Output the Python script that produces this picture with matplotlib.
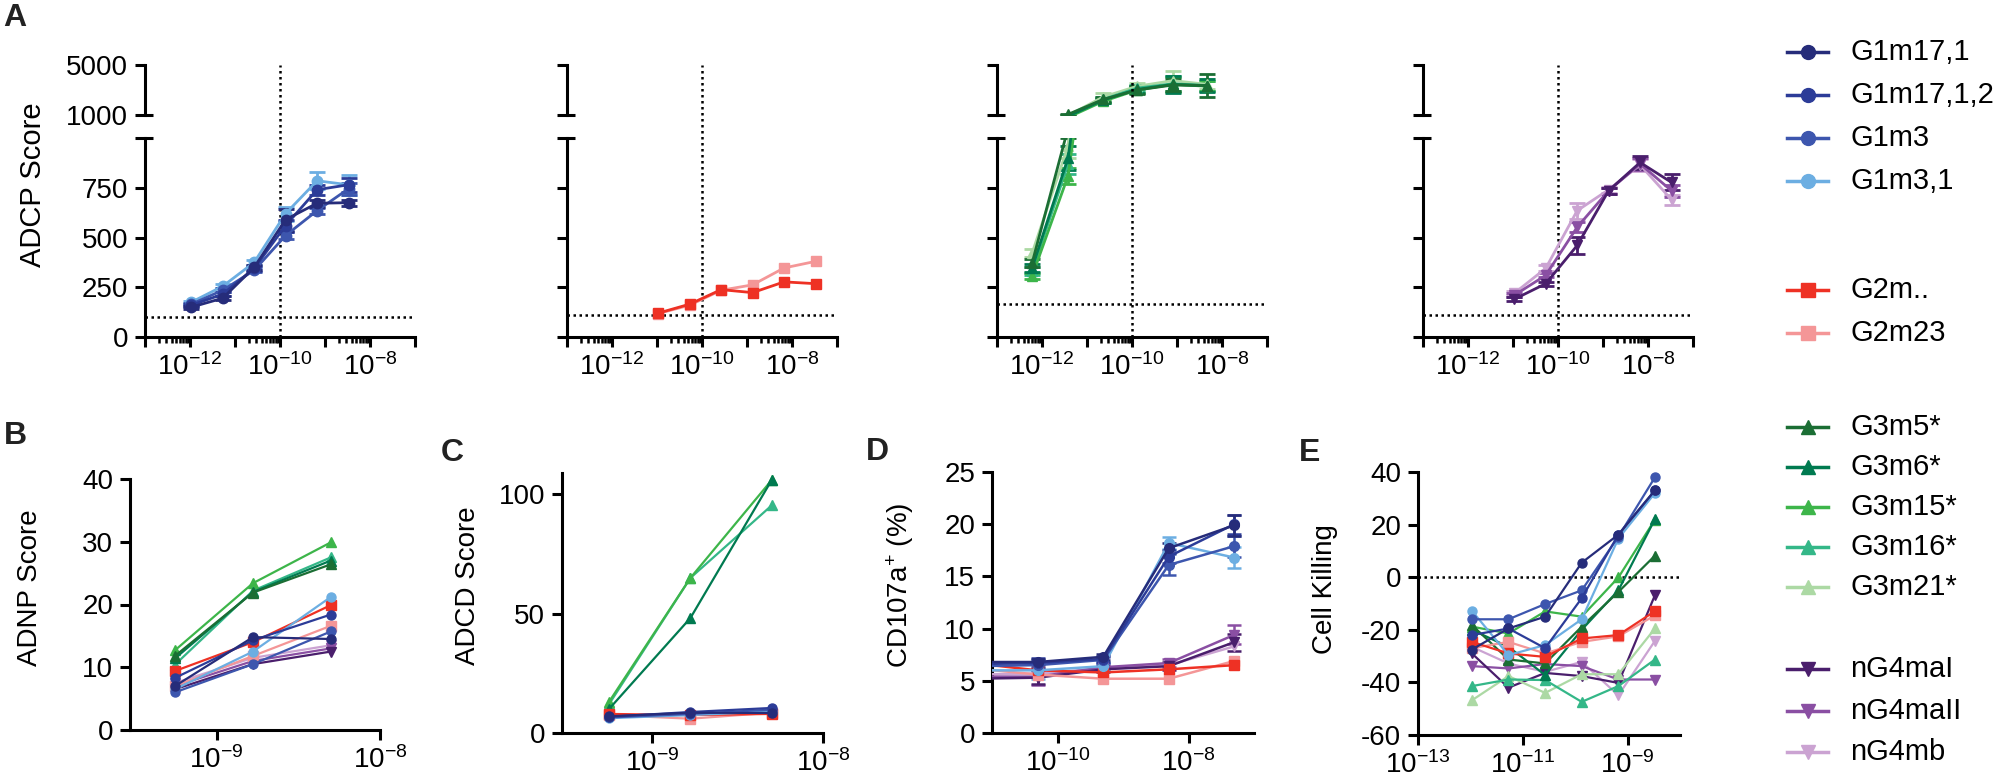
import matplotlib
matplotlib.use('Agg')
import matplotlib.pyplot as plt
from matplotlib.lines import Line2D
from matplotlib.ticker import FixedLocator, FixedFormatter, NullFormatter

plt.rcParams['font.family'] = ['Liberation Sans', 'DejaVu Sans']
plt.rcParams['mathtext.fontset'] = 'custom'
plt.rcParams['mathtext.rm'] = 'Liberation Sans'
plt.rcParams['mathtext.it'] = 'Liberation Sans:italic'
plt.rcParams['mathtext.bf'] = 'Liberation Sans:bold'

# ---------------- data ----------------
names = ['G1m17,1', 'G1m17,1,2', 'G1m3', 'G1m3,1', 'G2m..', 'G2m23',
         'G3m5*', 'G3m6*', 'G3m15*', 'G3m16*', 'G3m21*',
         'nG4maI', 'nG4maII', 'nG4mb']

# A: ADCP, one panel per subclass (concentration in M)
adcp_g1_conc = [1.07e-12, 5.33e-12, 2.67e-11, 1.33e-10, 6.67e-10, 3.33e-9]
adcp_g1 = {
    'G1m17,1':   [150, 195, 350, 590, 672, 675],
    'G1m17,1,2': [160, 215, 345, 560, 740, 765],
    'G1m3':      [165, 235, 335, 510, 635, 745],
    'G1m3,1':    [175, 255, 375, 620, 785, 765],
}
adcp_g1_err = {
    'G1m17,1':   [8, 10, 12, 55, 18, 15],
    'G1m17,1,2': [8, 10, 12, 30, 25, 35],
    'G1m3':      [8, 10, 10, 20, 15, 30],
    'G1m3,1':    [8, 10, 12, 35, 42, 50],
}

adcp_g2_conc = [1.07e-11, 5.33e-11, 2.67e-10, 1.33e-9, 6.67e-9, 3.33e-8]
adcp_g2 = {
    'G2m..': [120, 165, 238, 223, 277, 268],
    'G2m23': [118, 160, 235, 262, 347, 380],
}
adcp_g2_err = {}

adcp_g3_conc = [6.0e-13, 3.8e-12, 2.3e-11, 1.3e-10, 8.1e-10, 4.7e-9]
adcp_g3 = {
    'G3m5*':  [370, 1050, 2250, 3000, 3400, 3350],
    'G3m6*':  [345, 900, 2200, 3050, 3450, 3350],
    'G3m15*': [305, 810, 2100, 3000, 3450, 3300],
    'G3m16*': [330, 870, 2250, 3150, 3500, 3350],
    'G3m21*': [420, 960, 2450, 3300, 3750, 3450],
}
adcp_g3_err = {
    'G3m5*':  [20, 50, 200, 300, 500, 900],
    'G3m6*':  [20, 60, 200, 300, 700, 500],
    'G3m15*': [15, 40, 150, 250, 600, 400],
    'G3m16*': [20, 50, 200, 250, 600, 400],
    'G3m21*': [20, 60, 300, 300, 800, 400],
}

adcp_g4_conc = [1.07e-11, 5.33e-11, 2.67e-10, 1.33e-9, 6.67e-9, 3.33e-8]
adcp_g4 = {
    'nG4maI':  [190, 268, 460, 735, 877, 777],
    'nG4maII': [210, 310, 552, 735, 870, 735],
    'nG4mb':   [220, 345, 635, 740, 865, 690],
}
adcp_g4_err = {
    'nG4maI':  [10, 10, 45, 15, 35, 40],
    'nG4maII': [10, 10, 25, 15, 30, 30],
    'nG4mb':   [10, 15, 40, 15, 30, 25],
}
adcp_cutoffs = [100, 110, 165, 110]

# B: ADNP
adnp_conc = [5.56e-10, 1.67e-9, 5e-9]
adnp = {
    'G1m17,1':   [7.0, 14.8, 14.5],
    'G1m17,1,2': [8.3, 14.3, 18.4],
    'G1m3':      [6.0, 10.5, 15.7],
    'G1m3,1':    [6.5, 12.5, 21.2],
    'G2m..':     [9.4, 14.0, 19.9],
    'G2m23':     [7.0, 11.8, 16.6],
    'G3m5*':     [11.8, 21.9, 26.4],
    'G3m6*':     [11.4, 22.0, 27.0],
    'G3m15*':    [12.7, 23.4, 29.9],
    'G3m16*':    [10.4, 22.2, 27.5],
    'nG4maI':    [6.5, 10.5, 12.5],
    'nG4maII':   [7.0, 11.0, 13.0],
    'nG4mb':     [7.5, 11.5, 13.5],
}

# C: ADCD
adcd_conc = [5.56e-10, 1.67e-9, 5e-9]
adcd = {
    'G1m17,1':   [7.0, 8.5, 8.4],
    'G1m17,1,2': [6.8, 8.8, 10.5],
    'G1m3':      [6.5, 8.0, 9.8],
    'G1m3,1':    [6.2, 7.5, 9.0],
    'G2m..':     [8.0, 7.5, 8.0],
    'G2m23':     [7.5, 6.0, 8.5],
    'G3m6*':     [10.0, 48.2, 106.0],
    'G3m15*':    [13.0, 65.0, 106.0],
    'G3m16*':    [12.0, 65.0, 95.4],
}

# D: NK CD107a
cd107_conc = [5e-12, 5e-11, 5e-10, 5e-9, 5e-8]
cd107 = {
    'G1m17,1':   [6.8, 6.8, 7.3, 17.7, 19.9],
    'G1m17,1,2': [6.6, 6.7, 7.1, 16.9, 20.0],
    'G1m3':      [6.4, 6.5, 7.0, 16.1, 17.9],
    'G1m3,1':    [6.0, 6.0, 6.4, 18.2, 16.8],
    'G2m..':     [6.7, 6.0, 5.8, 6.1, 6.5],
    'G2m23':     [6.2, 5.6, 5.2, 5.2, 6.9],
    'nG4maI':    [5.2, 5.3, 6.1, 6.4, 8.7],
    'nG4maII':   [5.4, 5.4, 6.3, 6.7, 9.4],
    'nG4mb':     [5.6, 5.7, 6.2, 6.5, 8.3],
}
cd107_err = {
    'G1m17,1':   [0.3, 0.3, 0.3, 0.5, 1.0],
    'G1m17,1,2': [0.3, 0.5, 0.3, 0.6, 0.9],
    'G1m3':      [0.3, 0.5, 0.3, 1.0, 1.0],
    'G1m3,1':    [0.3, 0.8, 0.3, 0.6, 1.0],
    'nG4maI':    [0.3, 0.6, 0.3, 0.4, 0.8],
    'nG4maII':   [0.3, 0.8, 0.3, 0.4, 0.9],
}

# E: cell killing
kill_conc = [1.07e-12, 5.33e-12, 2.67e-11, 1.33e-10, 6.67e-10, 3.33e-9]
kill = {
    'G1m17,1':   [-27.5, -19.5, -15.0, 5.5, 16.2, 33.1],
    'G1m17,1,2': [-22.0, -19.5, -27.0, -8.0, 16.2, 33.0],
    'G1m3':      [-16.0, -16.0, -10.2, -5.0, 15.4, 38.0],
    'G1m3,1':    [-12.8, -29.6, -25.8, -16.0, 14.7, 32.0],
    'G2m..':     [-24.6, -29.0, -30.3, -23.3, -22.0, -12.9],
    'G2m23':     [-27.0, -24.6, -29.0, -24.6, -22.5, -14.5],
    'G3m5*':     [-18.2, -31.3, -32.8, -18.8, -5.6, 8.2],
    'G3m6*':     [-20.0, -26.5, -37.2, -20.0, -5.0, 22.1],
    'G3m15*':    [-18.8, -21.4, -13.0, -15.0, -0.1, 21.9],
    'G3m16*':    [-41.4, -38.9, -39.1, -47.4, -41.4, -31.3],
    'G3m21*':    [-46.8, -37.6, -44.0, -36.9, -36.9, -19.5],
    'nG4maI':    [-29.0, -42.0, -36.4, -37.6, -40.2, -6.8],
    'nG4maII':   [-33.8, -34.7, -33.0, -33.8, -38.9, -38.9],
    'nG4mb':     [-26.5, -32.8, -36.0, -32.2, -44.9, -24.2],
}

# ---------------- styles ----------------
colors = {
    'G1m17,1': '#262c7a', 'G1m17,1,2': '#2c3c98', 'G1m3': '#3d56ae', 'G1m3,1': '#6caee2',
    'G2m..': '#ee3124', 'G2m23': '#f49697',
    'G3m5*': '#1b6e34', 'G3m6*': '#007a50', 'G3m15*': '#3db54a', 'G3m16*': '#34b788',
    'G3m21*': '#acd9a4',
    'nG4maI': '#4a1e6c', 'nG4maII': '#8a4fa3', 'nG4mb': '#cba3d2',
}
markers = {n: ('o' if n.startswith('G1') else 's' if n.startswith('G2')
               else '^' if n.startswith('G3') else 'v') for n in names}

W, H = 2001, 782
fig = plt.figure(figsize=(W / 100, H / 100), dpi=100)

SPINE = 2.2
DOT = (0, (1, 1.4))


def add_ax(x0, x1, ytop, ybot):
    return fig.add_axes([x0 / W, 1 - ybot / H, (x1 - x0) / W, (ybot - ytop) / H])


def base_style(ax, labelsize=20):
    for s in ('top', 'right'):
        ax.spines[s].set_visible(False)
    for s in ('left', 'bottom'):
        ax.spines[s].set_linewidth(SPINE)
    ax.tick_params(which='major', length=7, width=SPINE, labelsize=labelsize, pad=5)
    ax.tick_params(which='minor', length=4, width=1.8)
    ax.patch.set_alpha(0)


def sup(e):
    return r'$\mathregular{10^{%d}}$' % e


def log_xaxis(ax, lo, hi, major_exps, labeled, minor_exps=()):
    ax.set_xscale('log')
    ax.set_xlim(lo, hi)
    major_exps = list(major_exps)
    ax.xaxis.set_major_locator(FixedLocator([10.0 ** e for e in major_exps]))
    ax.xaxis.set_major_formatter(FixedFormatter([sup(e) if e in labeled else '' for e in major_exps]))
    ax.xaxis.set_minor_locator(FixedLocator([m * 10.0 ** e for e in minor_exps for m in range(2, 10)]))
    ax.xaxis.set_minor_formatter(NullFormatter())


def draw(ax, xs, series, err, ms, lw, cap=6, lo=None, hi=None):
    # later names drawn first so that the darker shade of each group lies on top
    for name in reversed(names):
        if name not in series:
            continue
        c = colors[name]
        ys = series[name]
        keep = [True] * len(ys)
        if lo is not None:
            keep = [lo - 60 <= y <= hi + 60 for y in ys]
        if err and name in err:
            for x, y, e, k in zip(xs, ys, err[name], keep):
                if lo is not None and not (y + e >= lo and y - e <= hi):
                    continue
                ax.errorbar([x], [y], yerr=[e], fmt='none', ecolor=c, elinewidth=lw,
                            capsize=cap, capthick=lw, zorder=3)
        ax.plot(xs, ys, color=c, lw=lw, zorder=4)
        ax.plot([x for x, k in zip(xs, keep) if k], [y for y, k in zip(ys, keep) if k],
                ls='none', marker=markers[name], ms=ms, mec=c, mfc=c, zorder=4)


# ---------------- panel A (broken y axis) ----------------
a_left = [145, 567, 997, 1423]
a_sets = [(adcp_g1_conc, adcp_g1, adcp_g1_err), (adcp_g2_conc, adcp_g2, adcp_g2_err),
          (adcp_g3_conc, adcp_g3, adcp_g3_err), (adcp_g4_conc, adcp_g4, adcp_g4_err)]
A_TOP, A_BRK1, A_BRK2, A_BOT = 65, 115, 138, 337

for i, (conc, series, err) in enumerate(a_sets):
    x0 = a_left[i]
    x1 = x0 + 270
    top = add_ax(x0, x1, A_TOP, A_BRK1)
    bot = add_ax(x0, x1, A_BRK2, A_BOT)
    for ax in (top, bot):
        base_style(ax, 20)
        log_xaxis(ax, 1e-13, 1e-7, range(-13, -6), (-12, -10, -8), (-13, -11, -9))
    top.set_ylim(1000, 5000)
    bot.set_ylim(0, 1000)
    draw(top, conc, series, err, 7.5, 2.0, lo=1000, hi=5000)
    draw(bot, conc, series, err, 7.5, 2.0, lo=0, hi=1000)
    top.spines['bottom'].set_visible(False)
    top.tick_params(axis='x', which='both', bottom=False, labelbottom=False)
    top.set_yticks([1000, 5000])
    bot.set_yticks([0, 250, 500, 750, 1000])
    if i == 0:
        top.set_yticklabels(['1000', '5000'])
        bot.set_yticklabels(['0', '250', '500', '750', ''])
    else:
        top.set_yticklabels([])
        bot.set_yticklabels([])
    for ax in (top, bot):
        ax.plot([0, 0.03], [1000, 1000], transform=ax.get_yaxis_transform(), color='k',
                lw=SPINE, clip_on=False, solid_capstyle='butt')
    bot.axhline(adcp_cutoffs[i], color='k', ls=DOT, lw=1.8, zorder=1)
    bot.axvline(1e-10, 0, (A_BOT - A_TOP) / (A_BOT - A_BRK2), color='k', ls=DOT, lw=1.8,
                clip_on=False, zorder=1)

fig.text(33 / W, 1 - 185 / H, 'ADCP Score', rotation=90, fontsize=21, ha='center', va='center')

# ---------------- panels B-E ----------------
axb = add_ax(130, 380, 479, 730)
base_style(axb)
log_xaxis(axb, 10 ** -9.53, 1e-8, [-9, -8], (-9, -8))
draw(axb, adnp_conc, adnp, None, 6.5, 1.6)
axb.set_ylim(0, 40)
axb.set_yticks([0, 10, 20, 30, 40])

axc = add_ax(562, 823, 473, 733)
base_style(axc)
log_xaxis(axc, 10 ** -9.53, 1e-8, [-9, -8], (-9, -8))
draw(axc, adcd_conc, adcd, None, 6.5, 1.6)
axc.set_ylim(0, 109)
axc.set_yticks([0, 50, 100])

axd = add_ax(992, 1254, 472, 733)
base_style(axd)
log_xaxis(axd, 1e-11, 1e-7, [-10, -8], (-10, -8))
draw(axd, cd107_conc, cd107, cd107_err, 7, 1.8, cap=5)
axd.set_ylim(0, 25)
axd.set_yticks([0, 5, 10, 15, 20, 25])

axe = add_ax(1418, 1680, 472, 735)
base_style(axe)
log_xaxis(axe, 1e-13, 1e-8, [-13, -11, -9], (-13, -11, -9))
draw(axe, kill_conc, kill, None, 6.5, 1.6)
axe.set_ylim(-60, 40)
axe.set_yticks([-60, -40, -20, 0, 20, 40])
axe.set_yticklabels([str(v) for v in (-60, -40, -20, 0, 20, 40)])
axe.axhline(0, color='k', ls=DOT, lw=1.8, zorder=1)

fig.text(30 / W, 1 - 588 / H, 'ADNP Score', rotation=90, fontsize=20, ha='center', va='center')
fig.text(468 / W, 1 - 586 / H, 'ADCD Score', rotation=90, fontsize=20, ha='center', va='center')
fig.text(900 / W, 1 - 585 / H, r'CD107a$^{+}$ (%)', rotation=90, fontsize=20, ha='center', va='center')
fig.text(1325 / W, 1 - 589 / H, 'Cell Killing', rotation=90, fontsize=20, ha='center', va='center')

# panel letters
for lab, (lx, ly) in zip('ABCDE', [(15, 18), (15, 436), (452, 453), (877, 452), (1310, 453)]):
    fig.text(lx / W, 1 - ly / H, lab, fontsize=23, fontweight='bold', color='#222222',
             ha='center', va='center')

# ---------------- legend ----------------
legend_rows = [52, 95, 138, 181, 290, 333, 427, 467, 507, 547, 587, 669, 711, 752]
for name, yy in zip(names, legend_rows):
    c = colors[name]
    yf = 1 - yy / H
    fig.add_artist(Line2D([1787 / W, 1828 / W], [yf, yf], color=c, lw=2.5))
    fig.add_artist(Line2D([1807.5 / W], [yf], color=c, marker=markers[name], ms=10, ls='none'))
    fig.text(1850 / W, yf, name, fontsize=21, ha='left', va='center')

fig.savefig('out.png', dpi=100)
